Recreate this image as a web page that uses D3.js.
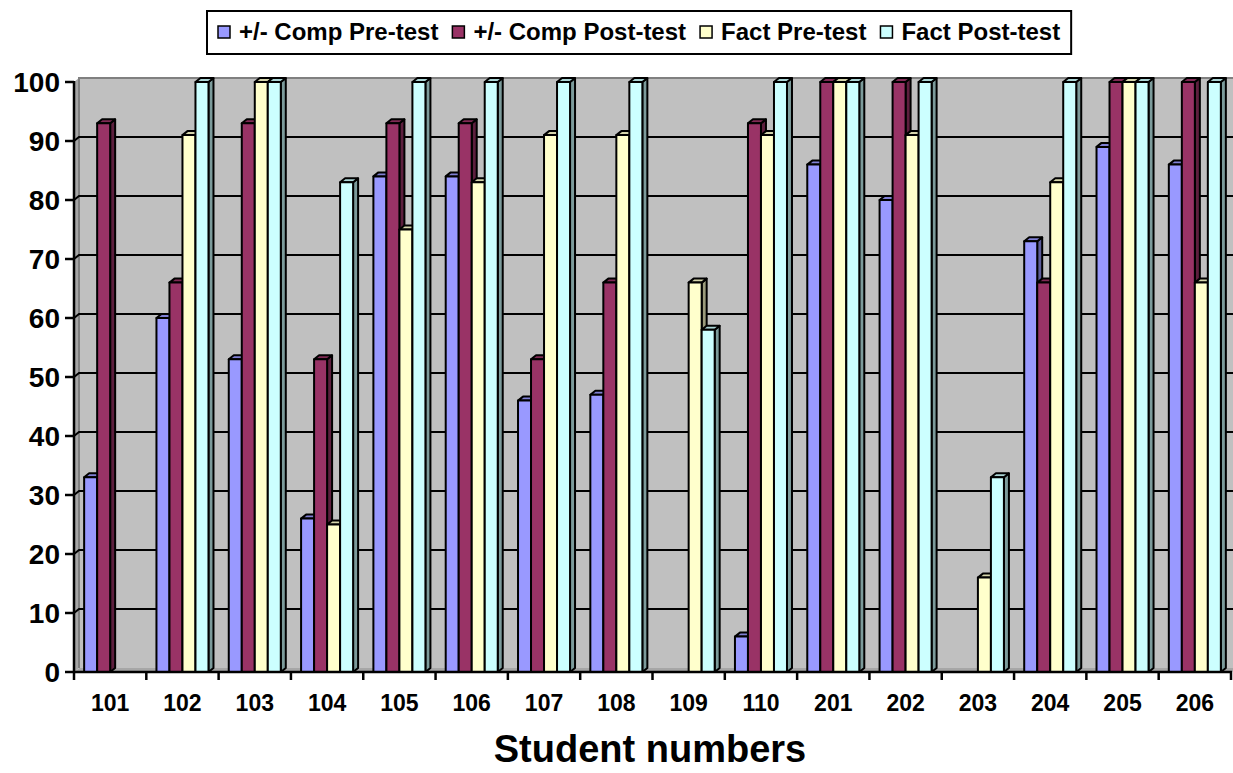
<!DOCTYPE html>
<html>
<head>
<meta charset="utf-8">
<script src="https://cdn.jsdelivr.net/npm/d3@7"></script>
<style>
  html, body { margin: 0; padding: 0; background: #fff; }
  svg { display: block; font-family: "Liberation Sans", Arial, sans-serif; }
</style>
</head>
<body>
<svg id="chart" width="1233" height="773"></svg>
<script>
// Student scores, in percent
const students = ["101","102","103","104","105","106","107","108","109","110","201","202","203","204","205","206"];
const seriesNames = ["+/- Comp Pre-test", "+/- Comp Post-test", "Fact Pre-test", "Fact Post-test"];
const compPre  = [33, 60, 53, 26, 84, 84, 46, 47,  0,  6,  86,  80,  0, 73,  89,  86];
const compPost = [93, 66, 93, 53, 93, 93, 53, 66,  0, 93, 100, 100,  0, 66, 100, 100];
const factPre  = [ 0, 91,100, 25, 75, 83, 91, 91, 66, 91, 100,  91, 16, 83, 100,  66];
const factPost = [ 0,100,100, 83,100,100,100,100, 58,100, 100, 100, 33,100, 100, 100];
const yTicks = [0, 10, 20, 30, 40, 50, 60, 70, 80, 90, 100];

const seriesValues = [compPre, compPost, factPre, factPost];
const colors = ["#9999FF", "#993366", "#FFFFCC", "#CCFFFF"];

const svg = d3.select("#chart");

// Plot geometry (front plane) and 3-D depth offset
const plotLeft = 74, plotRight = 1231, plotTop = 82, plotBottom = 672;
const dx = 5, dy = 4;

const x = d3.scaleBand().domain(students).range([plotLeft, plotRight]).padding(0);
const xs = d3.scaleBand().domain(seriesNames).range([0, x.bandwidth()]).paddingInner(0).paddingOuter(0.78);
const y = d3.scaleLinear().domain([0, 100]).range([plotBottom, plotTop]);

// Back wall
svg.append("rect")
  .attr("x", plotLeft + dx).attr("y", y(100) - dy)
  .attr("width", 1233 - plotLeft - dx).attr("height", y(0) - y(100))
  .attr("fill", "#C0C0C0");
// Left side wall
svg.append("polygon")
  .attr("points", [[plotLeft, y(0)], [plotLeft, y(100)], [plotLeft + dx, y(100) - dy], [plotLeft + dx, y(0) - dy]].join(" "))
  .attr("fill", "#A6A6A6");
svg.append("line")
  .attr("x1", plotLeft + dx).attr("x2", plotLeft + dx)
  .attr("y1", y(100) - dy).attr("y2", y(0) - dy)
  .attr("stroke", "#808080").attr("stroke-width", 2);
// Floor
svg.append("polygon")
  .attr("points", [[plotLeft, y(0)], [1233, y(0)], [1233, y(0) - dy], [plotLeft + dx, y(0) - dy]].join(" "))
  .attr("fill", "#A6A6A6");
// Wall top edge
svg.append("line")
  .attr("x1", plotLeft + dx - 1).attr("x2", 1233)
  .attr("y1", y(100) - dy).attr("y2", y(100) - dy)
  .attr("stroke", "#808080").attr("stroke-width", 2);

// Gridlines across the side wall and back wall
svg.append("g").selectAll("polyline")
  .data(yTicks.filter(v => v > 0 && v < 100))
  .join("polyline")
  .attr("points", v => [[plotLeft, y(v)], [plotLeft + dx, y(v) - dy], [1233, y(v) - dy]].join(" "))
  .attr("fill", "none").attr("stroke", "#000").attr("stroke-width", 2);

// Bars
const bars = svg.append("g");
students.forEach((s, ci) => {
  seriesNames.forEach((name, si) => {
    const v = seriesValues[si][ci];
    if (v <= 0) return;
    const x0 = x(s) + xs(name);
    const x1 = x0 + xs.bandwidth();
    const yt = y(v), yb = y(0);
    const base = d3.color(colors[si]);
    const g = bars.append("g").attr("stroke", "#000").attr("stroke-width", 2).attr("stroke-linejoin", "round");
    // side face
    g.append("polygon")
      .attr("points", [[x1, yb], [x1, yt], [x1 + dx, yt - dy], [x1 + dx, yb - dy]].join(" "))
      .attr("fill", base.darker(1.4));
    // top face
    g.append("polygon")
      .attr("points", [[x0, yt], [x1, yt], [x1 + dx, yt - dy], [x0 + dx, yt - dy]].join(" "))
      .attr("fill", base.darker(0.5));
    // front face
    g.append("rect")
      .attr("x", x0).attr("y", yt)
      .attr("width", x1 - x0).attr("height", yb - yt)
      .attr("fill", colors[si]);
  });
});

// Y axis
const yAxis = svg.append("g");
yAxis.append("line")
  .attr("x1", plotLeft).attr("x2", plotLeft).attr("y1", y(0) + 1).attr("y2", y(100) - 1)
  .attr("stroke", "#000").attr("stroke-width", 2.5);
yAxis.selectAll("line.tick").data(yTicks).join("line")
  .attr("class", "tick")
  .attr("x1", plotLeft - 9).attr("x2", plotLeft).attr("y1", v => y(v)).attr("y2", v => y(v))
  .attr("stroke", "#000").attr("stroke-width", 2.5);
yAxis.selectAll("text").data(yTicks).join("text")
  .attr("x", 60).attr("y", v => y(v)).attr("dy", "0.36em")
  .attr("text-anchor", "end")
  .attr("font-size", 28).attr("font-weight", "bold")
  .text(d => d);

// X axis
const xAxis = svg.append("g");
xAxis.append("line")
  .attr("x1", plotLeft - 1).attr("x2", plotRight + 1).attr("y1", y(0)).attr("y2", y(0))
  .attr("stroke", "#000").attr("stroke-width", 2.5);
const boundaries = students.map(s => x(s)).concat([plotRight]);
xAxis.selectAll("line.tick").data(boundaries).join("line")
  .attr("class", "tick")
  .attr("x1", d => d).attr("x2", d => d).attr("y1", y(0)).attr("y2", y(0) + 8)
  .attr("stroke", "#000").attr("stroke-width", 2.5);
xAxis.selectAll("text").data(students).join("text")
  .attr("x", s => x(s) + x.bandwidth() / 2).attr("y", 711)
  .attr("text-anchor", "middle")
  .attr("font-size", 23).attr("font-weight", "bold")
  .text(d => d);

// Axis title
svg.append("text")
  .attr("x", 650).attr("y", 762)
  .attr("text-anchor", "middle")
  .attr("font-size", 38).attr("font-weight", "bold")
  .text("Student numbers");

// Legend
const legend = svg.append("g");
const legendBox = legend.append("rect")
  .attr("fill", "#fff").attr("stroke", "#000").attr("stroke-width", 2);
let lx = 218;
seriesNames.forEach((name, i) => {
  legend.append("rect")
    .attr("x", lx).attr("y", 26).attr("width", 12).attr("height", 12)
    .attr("fill", colors[i]).attr("stroke", "#000").attr("stroke-width", 1.5);
  const t = legend.append("text")
    .attr("x", lx + 21).attr("y", 40)
    .attr("font-size", 24).attr("font-weight", "bold")
    .text(name);
  lx += 21 + t.node().getComputedTextLength() + 14;
});
legendBox.attr("x", 207).attr("y", 11).attr("width", lx - 14 + 11 - 207).attr("height", 43);
</script>
</body>
</html>
